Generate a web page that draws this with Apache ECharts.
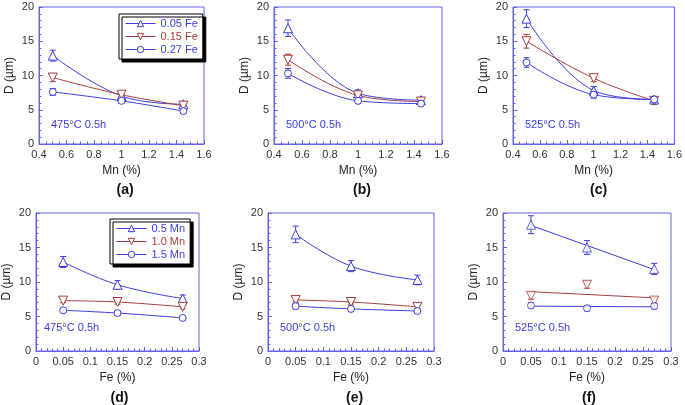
<!DOCTYPE html>
<html><head><meta charset="utf-8">
<script src="https://cdn.jsdelivr.net/npm/echarts@6/dist/echarts.min.js"></script>
<style>html,body{margin:0;padding:0;background:#fff}#c{width:685px;height:405px}</style>
</head><body><div id="c"></div>
<script>
// ---- data ----
const mnX = [0.5, 1.0, 1.45];
const feX = [0.05, 0.15, 0.27];
const feNames = ['0.05 Fe', '0.15 Fe', '0.27 Fe'];
const mnNames = ['0.5 Mn', '1.0 Mn', '1.5 Mn'];
const panelTemps = ['475°C 0.5h', '500°C 0.5h', '525°C 0.5h'];
const panelLetters = ['(a)', '(b)', '(c)', '(d)', '(e)', '(f)'];
const xTicksMn = [0.4, 0.6, 0.8, 1, 1.2, 1.4, 1.6];
const xTicksFe = [0, 0.05, 0.1, 0.15, 0.2, 0.25, 0.3];
const yTicks = [0, 5, 10, 15, 20];

// vs Mn (rows: 0.05 Fe, 0.15 Fe, 0.27 Fe)
const a_val = [[12.9, 7.0, 5.8], [9.7, 7.2, 5.6], [7.6, 6.3, 4.8]];
const a_err = [[0.8, 0.3, 0.3], [0.6, 0.3, 0.3], [0.5, 0.3, 0.3]];
const b_val = [[16.9, 7.4, 6.4], [12.3, 7.1, 6.2], [10.3, 6.3, 5.9]];
const b_err = [[1.2, 0.5, 0.4], [0.8, 0.4, 0.3], [0.7, 0.4, 0.3]];
const c_val = [[18.3, 7.8, 6.5], [15.0, 9.6, 6.3], [11.9, 7.2, 6.5]];
const c_err = [[1.3, 0.6, 0.4], [1.0, 0.5, 0.5], [0.7, 0.5, 0.4]];
// vs Fe (rows: 0.5 Mn, 1.0 Mn, 1.5 Mn)
const d_val = [[12.9, 9.6, 7.6], [7.3, 7.1, 6.4], [5.9, 5.5, 4.8]];
const d_err = [[0.8, 0.6, 0.5], [0.3, 0.3, 0.3], [0.3, 0.3, 0.2]];
const e_val = [[16.9, 12.3, 10.3], [7.4, 7.1, 6.4], [6.5, 6.1, 5.8]];
const e_err = [[1.2, 0.8, 0.7], [0.3, 0.3, 0.3], [0.4, 0.4, 0.3]];
const f_val = [[18.3, 15.0, 11.9], [8.0, 9.6, 7.3], [6.6, 6.2, 6.5]];
const f_err = [[1.3, 1.0, 0.8], [0.5, 0.5, 0.4], [0.4, 0.4, 0.4]];
// fitted straight lines in (f), endpoints at Fe 0.05 and 0.27
const f_fitX = [0.05, 0.27];
const f_fit = [[18.2, 11.8], [8.6, 7.7], [6.5, 6.4]];

// ---- style ----
const BLUE = '#3c3ce0', RED = '#a83c3c', FRAME = '#6262ee';
const colors = [BLUE, RED, BLUE];
const symbols = ['triangle', 'path://M0,0L10,0L5,9Z', 'circle'];
const FONT = 'Liberation Sans, Arial, sans-serif';

const grids = [
  {left: 39, top: 7, width: 165, height: 137},
  {left: 274, top: 7, width: 168, height: 137},
  {left: 513, top: 7, width: 164, height: 137},
  {left: 32, top: 213, width: 167, height: 138},
  {left: 268, top: 213, width: 166, height: 138},
  {left: 503, top: 213, width: 168, height: 138}
];
const panels = [
  {x: mnX, v: a_val, e: a_err, names: feNames},
  {x: mnX, v: b_val, e: b_err, names: feNames},
  {x: mnX, v: c_val, e: c_err, names: feNames},
  {x: feX, v: d_val, e: d_err, names: mnNames},
  {x: feX, v: e_val, e: e_err, names: mnNames},
  {x: feX, v: f_val, e: f_err, names: mnNames, fit: true}
];

const option = {
  animation: false,
  textStyle: {fontFamily: FONT},
  grid: grids.map(g => Object.assign({show: true, borderColor: FRAME, borderWidth: 1, backgroundColor: 'transparent'}, g)),
  xAxis: [], yAxis: [], series: [], title: [], legend: [], graphic: []
};

panels.forEach((p, i) => {
  const top = i < 3;
  const ticks = top ? xTicksMn : xTicksFe;
  option.xAxis.push({
    type: 'value', gridIndex: i, min: ticks[0], max: ticks[ticks.length - 1],
    interval: top ? 0.2 : 0.05,
    name: top ? 'Mn (%)' : 'Fe (%)', nameLocation: 'middle', nameGap: 21,
    nameTextStyle: {color: '#222', fontSize: 12, fontFamily: FONT},
    axisLine: {show: true, lineStyle: {color: FRAME}},
    axisTick: {show: true, inside: true, length: 4, lineStyle: {color: FRAME}},
    minorTick: {show: true, splitNumber: top ? 4 : 5, length: 2.5, lineStyle: {color: FRAME}},
    splitLine: {show: false},
    axisLabel: {color: '#333', fontSize: 11, margin: 5, fontFamily: FONT}
  });
  option.yAxis.push({
    type: 'value', gridIndex: i, min: 0, max: 20, interval: 5,
    name: 'D (µm)', nameLocation: 'middle', nameGap: 23,
    nameTextStyle: {color: '#222', fontSize: 12, fontFamily: FONT},
    axisLine: {show: true, lineStyle: {color: FRAME}},
    axisTick: {show: true, inside: true, length: 4, lineStyle: {color: FRAME}},
    minorTick: {show: true, splitNumber: 5, length: 2.5, lineStyle: {color: FRAME}},
    splitLine: {show: false},
    axisLabel: {color: '#333', fontSize: 11, margin: 5, fontFamily: FONT}
  });
  const g = grids[i];
  option.title.push({
    text: panelLetters[i], left: g.left + g.width / 2 - 10, top: top ? 178 : 386,
    textAlign: 'left',
    textStyle: {fontSize: 14, fontWeight: 'bold', color: '#111', fontFamily: FONT}
  });
  option.graphic.push({
    type: 'text', left: g.left + 12, top: g.top + (top ? 112 : 109),
    style: {text: panelTemps[i % 3], fill: BLUE, fontSize: 11, fontFamily: FONT}
  });

  for (let k = 0; k < 3; k++) {
    const pts = p.x.map((x, j) => [x, p.v[k][j]]);
    const errPts = p.x.map((x, j) => [x, p.v[k][j] - p.e[k][j], p.v[k][j] + p.e[k][j]]);
    option.series.push({
      type: 'custom', xAxisIndex: i, yAxisIndex: i, z: 2, silent: true,
      data: errPts,
      renderItem: (params, api) => {
        const lo = api.coord([api.value(0), api.value(1)]);
        const hi = api.coord([api.value(0), api.value(2)]);
        const w = 3;
        const st = {stroke: colors[k], lineWidth: 1};
        return {type: 'group', children: [
          {type: 'line', shape: {x1: lo[0], y1: lo[1], x2: hi[0], y2: hi[1]}, style: st},
          {type: 'line', shape: {x1: lo[0] - w, y1: lo[1], x2: lo[0] + w, y2: lo[1]}, style: st},
          {type: 'line', shape: {x1: hi[0] - w, y1: hi[1], x2: hi[0] + w, y2: hi[1]}, style: st}
        ]};
      }
    });
    const symStyle = {color: '#fff', borderColor: colors[k], borderWidth: 1};
    if (p.fit) {
      option.series.push({
        type: 'line', xAxisIndex: i, yAxisIndex: i, z: 3, showSymbol: false,
        data: f_fitX.map((x, j) => [x, f_fit[k][j]]),
        lineStyle: {color: colors[k], width: 1}, itemStyle: {color: colors[k]}
      });
      option.series.push({
        type: 'scatter', xAxisIndex: i, yAxisIndex: i, z: 4,
        data: pts, symbol: symbols[k], symbolSize: k === 2 ? 7 : 9, itemStyle: symStyle
      });
    } else {
      option.series.push({
        name: (i === 0 || i === 3) ? p.names[k] : undefined,
        type: 'line', xAxisIndex: i, yAxisIndex: i, z: 3, smooth: 0.4,
        data: pts, symbol: symbols[k], symbolSize: k === 2 ? 7 : 9, showAllSymbol: true,
        lineStyle: {color: colors[k], width: 1}, itemStyle: symStyle
      });
    }
  }
});

const legendBoxes = [{left: 119, top: 14, names: feNames}, {left: 110, top: 219, names: mnNames}];
legendBoxes.forEach(L => {
  option.legend.push({
    left: L.left, top: L.top, orient: 'vertical', itemGap: 2, itemWidth: 30, itemHeight: 8,
    padding: [4, 5, 4, 6], backgroundColor: '#fff', borderColor: '#000', borderWidth: 1,
    shadowColor: '#000', shadowBlur: 0, shadowOffsetX: 3, shadowOffsetY: 3,
    selectedMode: false,
    lineStyle: {width: 1},
    itemStyle: {borderWidth: 1},
    data: L.names.map((n, k) => ({name: n, textStyle: {color: colors[k], fontSize: 11, fontFamily: FONT}}))
  });
});

echarts.init(document.getElementById('c')).setOption(option);
</script></body></html>
